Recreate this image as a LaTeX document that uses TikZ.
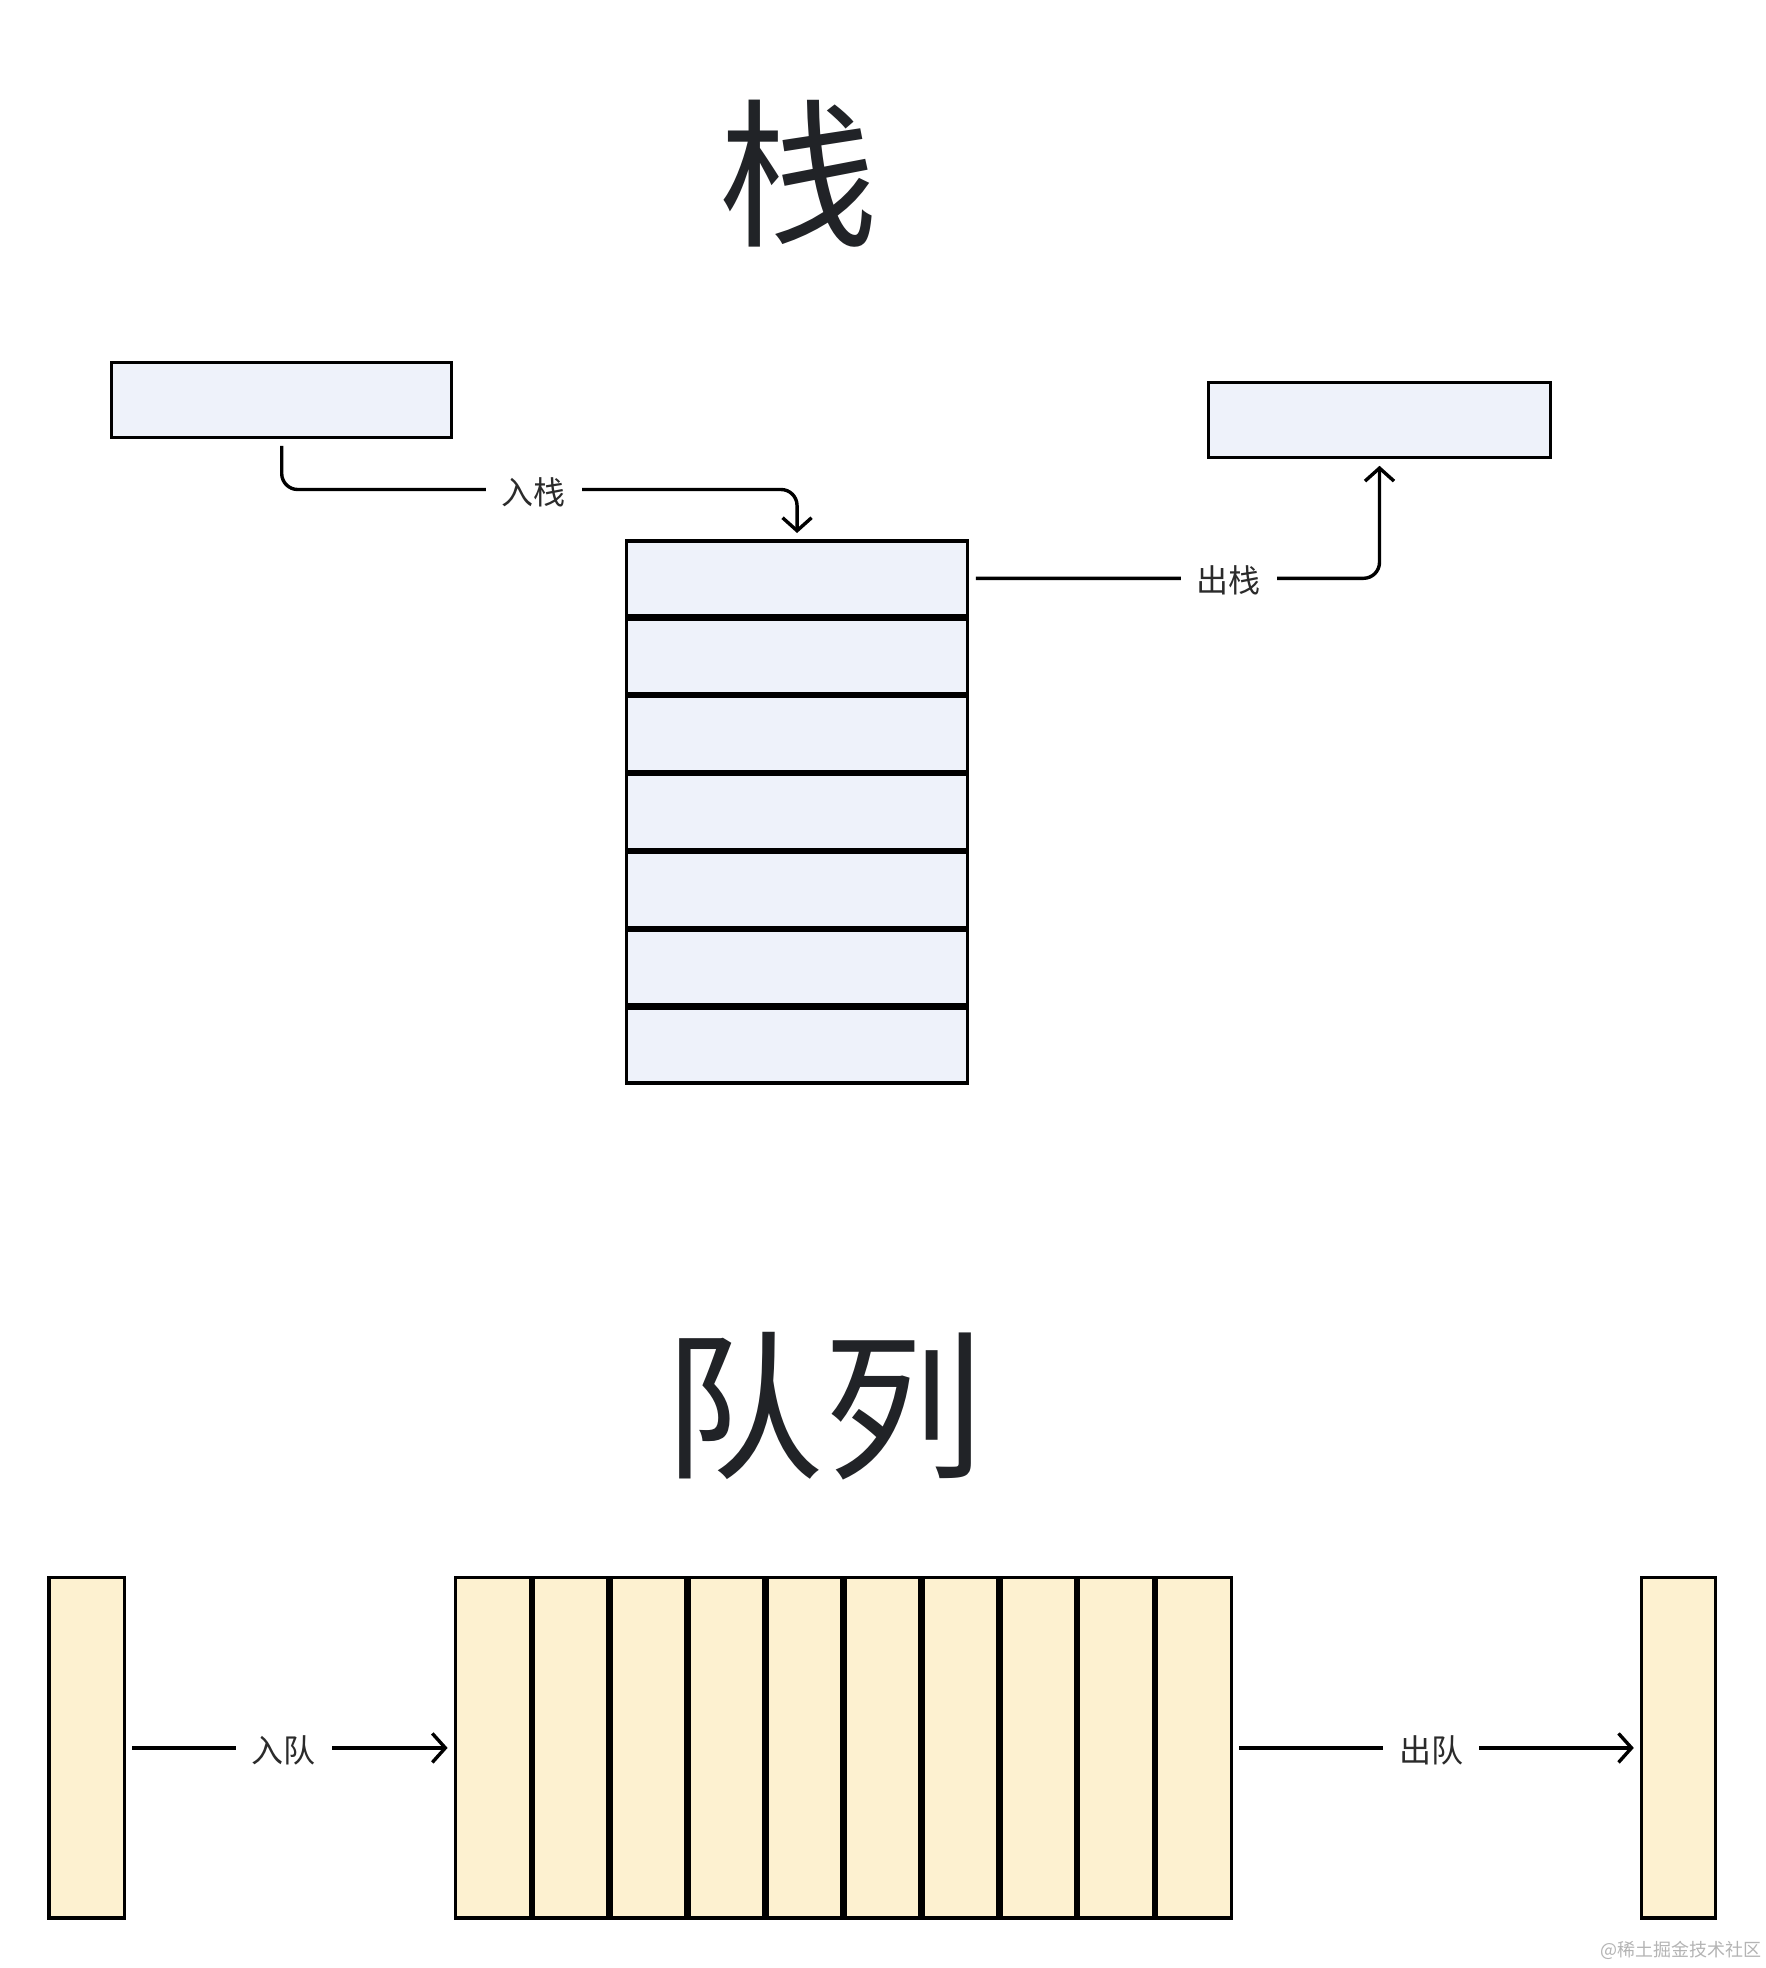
\documentclass[tikz,border=0pt]{standalone}
\usepackage{fontspec}
\setmainfont{Noto Sans CJK SC}
\usetikzlibrary{arrows.meta}
\definecolor{stackfill}{HTML}{EEF2FA}
\definecolor{queuefill}{HTML}{FDF1D0}
\definecolor{titlec}{HTML}{212327}
\definecolor{labelc}{HTML}{2B2B2B}
\definecolor{markc}{HTML}{B4B4B4}
\begin{document}
\begin{tikzpicture}[x=1pt,y=-1pt,
  cell/.style={draw=black, line width=3.3pt, inner sep=0pt, outer sep=0pt, anchor=north west},
  scell/.style={cell, fill=stackfill, minimum width=341.5pt, minimum height=74.6pt},
  qcell/.style={cell, fill=queuefill, minimum width=74.6pt, minimum height=340.2pt},
  conn/.style={line width=3.4pt, draw=black, rounded corners=16pt, shorten <=8pt, shorten >=8pt, -{Straight Barb[length=13pt,width=29pt]}},
  lbl/.style={fill=white, text=labelc, font=\fontsize{32}{38}\selectfont, inner xsep=16pt, inner ysep=2pt},
  title/.style={text=titlec, font=\fontsize{160}{190}\selectfont, inner sep=0pt}]
\useasboundingbox[fill=white] (0,0) rectangle (1766,1968);
% titles
\node[title] (t1) at (798.3,173.2) {栈};
\node[title] (t2) at (823,1405.8) {队列};
% stack
\node[cell, fill=stackfill, minimum width=340pt, minimum height=75pt] (tl) at (111.7,362.8) {};
\node[cell, fill=stackfill, minimum width=341.4pt, minimum height=75pt] (tr) at (1208.8,382.8) {};
\foreach \i in {1,...,7}
  \node[scell] (s\i) at (626.3,{541.0+(\i-1)*77.9}) {};
\coordinate (m1) at (538,489.5);
\draw[conn] (tl.south) |- (m1) -| (s1.north);
\draw[conn] (s1.east) -| (tr.south);
\node[lbl] (l1) at (533.5,492) {入栈};
\node[lbl] (l2) at (1228.9,580.5) {出栈};
% queue
\node[cell, fill=queuefill, minimum width=75.3pt, minimum height=340.2pt] (ql) at (49,1577.8) {};
\node[cell, fill=queuefill, minimum width=74pt, minimum height=340.2pt] (qr) at (1641.8,1577.8) {};
\foreach \j in {1,...,10}
  \node[qcell] (q\j) at ({455.6+(\j-1)*77.9},1577.8) {};
\draw[conn] (ql.east) -- (q1.west);
\draw[conn] (q10.east) -- (qr.west);
\node[lbl] (l3) at (283.7,1750) {入队};
\node[lbl] (l4) at (1431,1750) {出队};
% watermark
\node[text=markc, font=\fontsize{18}{20}\selectfont, anchor=east, inner sep=0pt] (wm) at (1762,1950) {@稀土掘金技术社区};
\end{tikzpicture}
\end{document}
